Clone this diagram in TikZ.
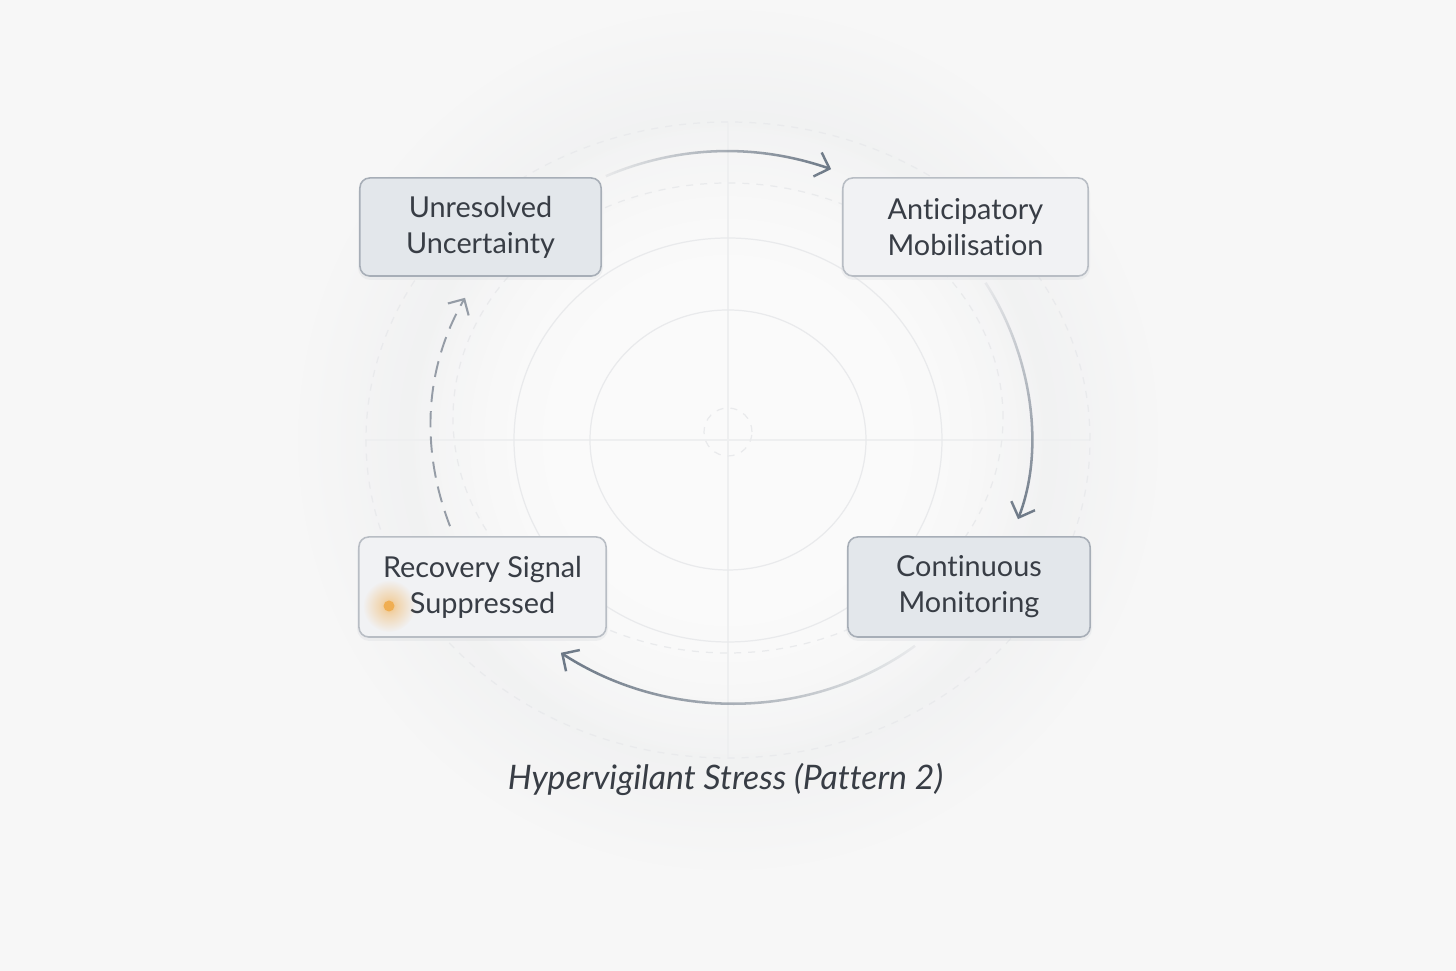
\documentclass[tikz,border=0pt]{standalone}
\usepackage{fontspec}
\setmainfont{Lato}[Ligatures={NoCommon,NoRare,NoContextual}]
\usetikzlibrary{arrows.meta,fadings}
\definecolor{bg}{HTML}{F7F7F7}
\definecolor{ctr}{HTML}{FAFAFA}
\definecolor{ring}{HTML}{EDEEEF}
\definecolor{faint}{HTML}{E9EAEC}
\definecolor{fainter}{HTML}{EEEFF0}
\definecolor{boxdark}{HTML}{E3E7EB}
\definecolor{boxlight}{HTML}{F1F2F4}
\definecolor{edgedark}{HTML}{A7AEB7}
\definecolor{edgelight}{HTML}{B8BDC4}
\definecolor{txt}{HTML}{383D45}
\definecolor{arr}{HTML}{6C7886}
\definecolor{arrlight}{HTML}{959CA6}
\definecolor{glow}{HTML}{F2B259}
\definecolor{dot}{HTML}{F0AE52}
\definecolor{shadowc}{HTML}{C9CDD2}
% radial masks (black = transparent, white = opaque); path edge = 25bp
\pgfdeclareradialshading{ringmask}{\pgfpointorigin}{color(0bp)=(black); color(12bp)=(black); color(18.5bp)=(white!55!black); color(21bp)=(white!35!black); color(25bp)=(black); color(50bp)=(black)}
\pgfdeclarefading{ringfade}{\pgfuseshading{ringmask}}
\pgfdeclareradialshading{ctrmask}{\pgfpointorigin}{color(0bp)=(white); color(14bp)=(white); color(25bp)=(black); color(50bp)=(black)}
\pgfdeclarefading{ctrfade}{\pgfuseshading{ctrmask}}
\pgfdeclareradialshading{glowmask}{\pgfpointorigin}{color(0bp)=(white!75!black); color(8bp)=(white!45!black); color(25bp)=(black); color(50bp)=(black)}
\pgfdeclarefading{glowfade}{\pgfuseshading{glowmask}}
\tikzfading[name=fadeLR, left color=transparent!92, right color=transparent!0]
\tikzfading[name=fadeTB, top color=transparent!92, bottom color=transparent!0]
\tikzfading[name=fadeRL, left color=transparent!0, right color=transparent!92]
\tikzset{
  stagebox/.style={draw, rounded corners=2.8pt, line width=0.45pt, text=txt,
    align=center, font=\fontsize{8.2}{10.3}\selectfont, inner sep=0pt},
  darkbox/.style={stagebox, fill=boxdark, draw=edgedark},
  lightbox/.style={stagebox, fill=boxlight, draw=edgelight},
  flow/.style={draw=arr, line width=0.72pt, -{Straight Barb[length=3.6pt,width=7.2pt,line width=0.7pt]}},
  backflow/.style={draw=arrlight, line width=0.55pt, dash pattern=on 4.6pt off 2.6pt,
    -{Straight Barb[length=3.4pt,width=6.8pt,line width=0.6pt]}},
  guide/.style={draw=faint, line width=0.35pt},
  axis/.style={draw=fainter, line width=0.35pt},
  guidedash/.style={draw=faint, line width=0.35pt, dash pattern=on 2pt off 2pt},
  softshadow/.style={fill=shadowc, opacity=0.22, rounded corners=3.5pt},
}
\begin{document}
\begin{tikzpicture}[x=0.01cm,y=0.01cm]
\fill[bg] (0,0) rectangle (1456,-971);
\useasboundingbox (0,0) rectangle (1456,-971);
% soft halo behind the cycle
\fill[ring, path fading=ringfade] (728,-440) circle (430);
\fill[ctr, path fading=ctrfade] (728,-440) circle (330);
% faint guide circles and axes
\draw[axis] (365,-440) -- (1090,-440);
\draw[axis] (728,-123) -- (728,-757);
\draw[guidedash] (728,-440) ellipse [x radius=362, y radius=318];
\draw[guidedash] (728,-418) ellipse [x radius=275, y radius=235];
\draw[guide] (728,-440) ellipse [x radius=214, y radius=202];
\draw[guide] (728,-440) ellipse [x radius=138, y radius=130];
\draw[guidedash] (728,-432) circle (24);
% soft shadows
\fill[softshadow] (358,-180) rectangle (603,-280);
\fill[softshadow] (841,-180) rectangle (1090,-280);
\fill[softshadow] (846,-539) rectangle (1092,-641);
\fill[softshadow] (357,-539) rectangle (608,-641);
% stages
\node[darkbox, minimum width=2.41cm, minimum height=0.98cm] (u) at (480.5,-227) {Unresolved\\Uncertainty};
\node[lightbox, minimum width=2.45cm, minimum height=0.98cm] (a) at (965.5,-227) {Anticipatory\\Mobilisation};
\node[darkbox, minimum width=2.42cm, minimum height=1.00cm] (c) at (969,-587) {Continuous\\Monitoring};
\node[lightbox, minimum width=2.47cm, minimum height=1.00cm] (r) at (482.5,-587) {Recovery Signal\\Suppressed};
% warm dot
\fill[glow, path fading=glowfade] (389,-606) circle (26);
\fill[dot] (389,-606) circle (5.5);
% connectors
\draw[flow, path fading=fadeLR] ([shift={(4,1)}]u.north east) to[out=23, in=161, looseness=0.9] ([shift={(-11,8)}]a.north west);
\draw[flow, path fading=fadeTB] ([shift={(20,-6)}]a.south) to[out=-57, in=69, looseness=0.86] ([shift={(49,17)}]c.north);
\draw[flow, path fading=fadeRL] ([shift={(-54,-8)}]c.south) to[out=216, in=-33, looseness=0.92] ([shift={(-46,-15)}]r.south east);
\draw[backflow] ([shift={(-32.5,10)}]r.north) to[out=111, in=240, looseness=0.92] ([shift={(-15.5,-21)}]u.south);
% title
\node[text=txt, font=\fontsize{9.6}{11}\selectfont\itshape] (title) at (725.5,-780) {Hypervigilant Stress (Pattern 2)};
\end{tikzpicture}
\end{document}
